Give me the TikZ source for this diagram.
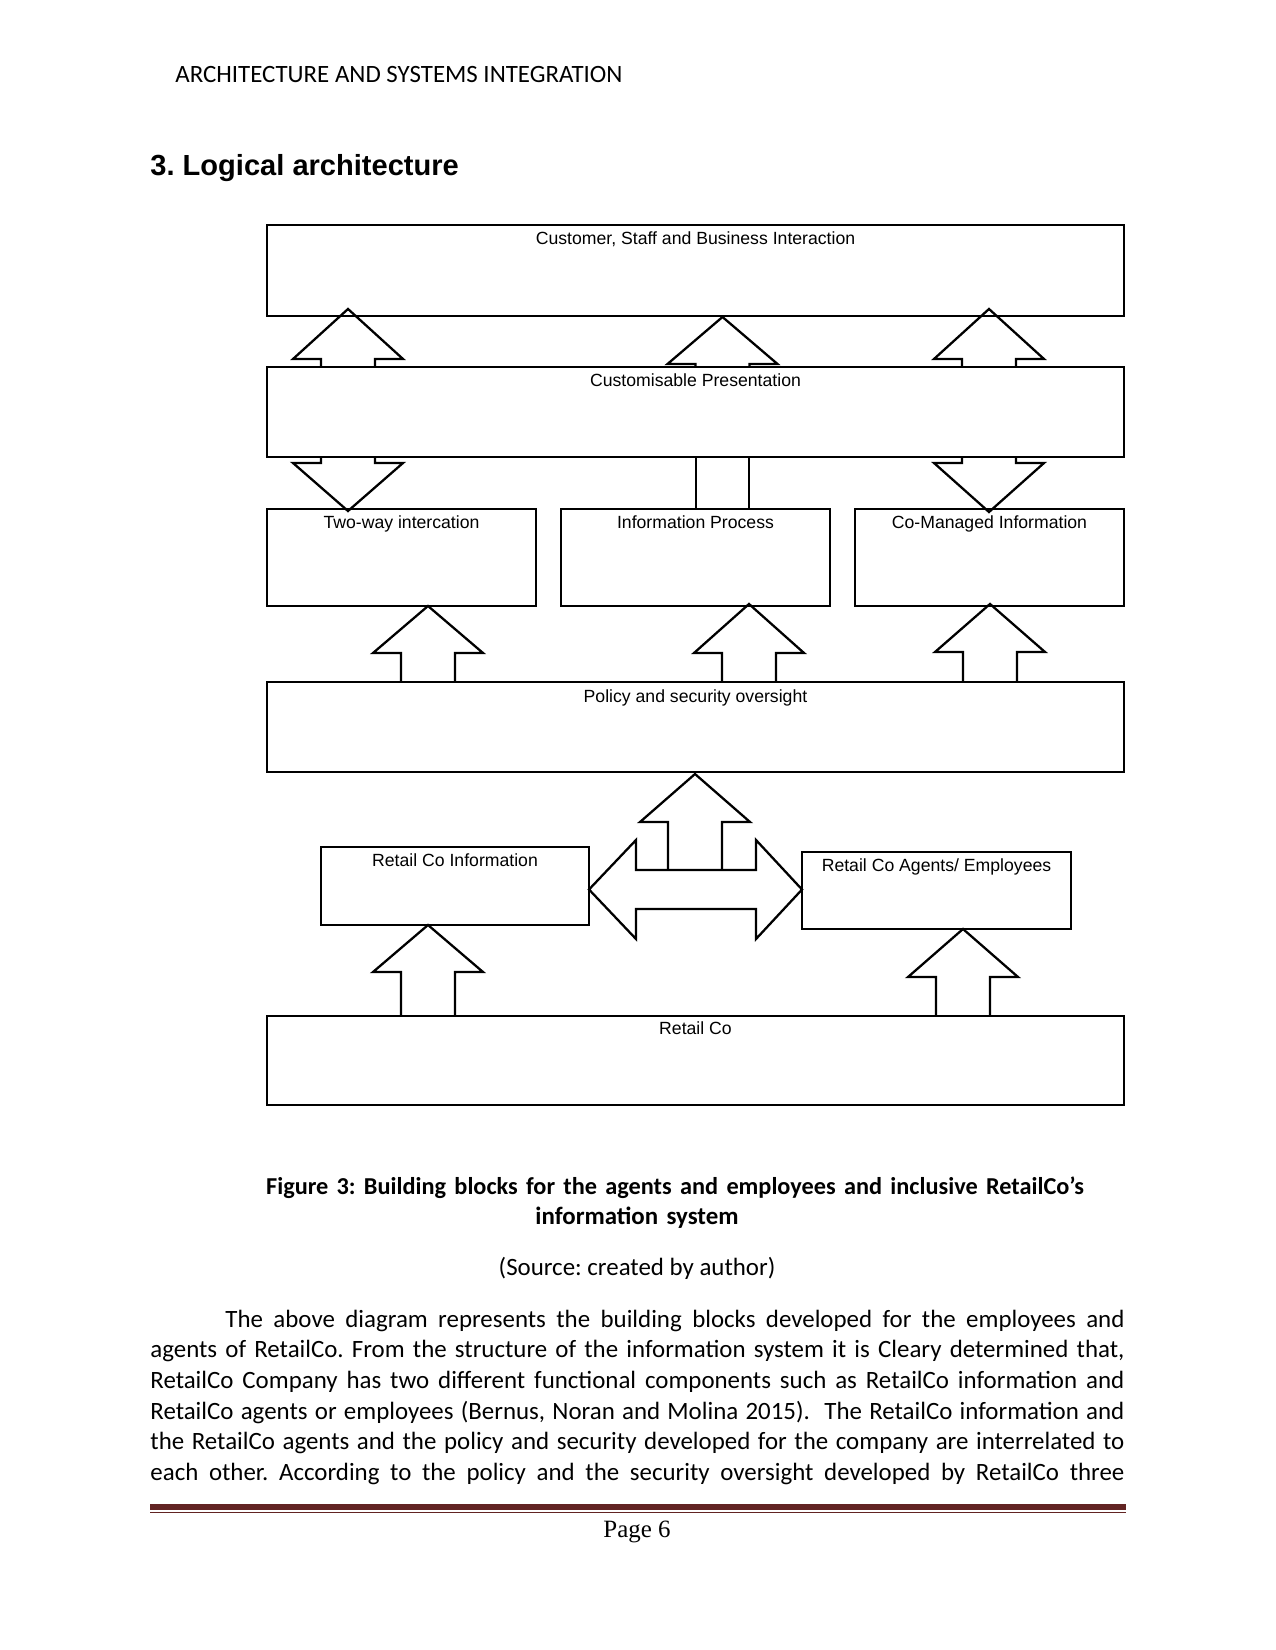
\documentclass[tikz,border=0pt]{standalone}
\usepackage{fontspec}
\setmainfont{Carlito}
\newfontfamily\arialfont{Liberation Sans}
\newfontfamily\pagefont{Liberation Serif}
\usetikzlibrary{calc}
\definecolor{rulered}{HTML}{622423}
\AtBeginDocument{\frenchspacing}
\newlength\pxu
\setlength\pxu{0.4818pt}
\tikzset{
  blk/.style={draw, line width=1.1pt, inner sep=0pt, outer sep=0pt},
  blklabel/.style={font=\arialfont\fontsize{8.5}{10}\selectfont, inner sep=0pt, anchor=base},
  blkarrow/.style={draw, line width=1.1pt, line join=miter},
  pagetext/.style={font=\fontsize{12}{14.7}\selectfont, inner sep=0pt},
}
% x, base y, head y, tip y
\newcommand{\vblock}[4]{%
  \draw[blkarrow] (#1-27,#2) -- (#1-27,#3) -- (#1-55,#3) -- (#1,#4) -- (#1+55,#3) -- (#1+27,#3) -- (#1+27,#2);}
\begin{document}
\begin{tikzpicture}[x=0.4818pt, y=-0.4818pt]
\useasboundingbox (0,0) rectangle (1275,1650);
% page head
\node[pagetext, anchor=base west] (head) at (175,83) {ARCHITECTURE AND SYSTEMS INTEGRATION};
\node[font=\arialfont\bfseries\fontsize{14}{17}\selectfont, inner sep=0pt, anchor=base west] (title) at (150,176) {3. Logical architecture};

% layers
\node[blk, minimum width=857*\pxu, minimum height=91*\pxu] (cust) at (695.5,270.5) {};
\node[blk, minimum width=857*\pxu, minimum height=90*\pxu] (pres) at (695.5,412) {};
\foreach \n/\x in {two/401.5, proc/695.5, coman/989.5}
{
	\node[blk, minimum width=269*\pxu, minimum height=97*\pxu] (\n) at (\x,557.5) {};
}
\node[blk, minimum width=857*\pxu, minimum height=90*\pxu] (policy) at (695.5,727) {};
\node[blk, minimum width=268*\pxu, minimum height=78*\pxu] (rinfo) at (455,886) {};
\node[blk, minimum width=269*\pxu, minimum height=77*\pxu] (ragents) at (936.5,890.5) {};
\node[blk, minimum width=857*\pxu, minimum height=89*\pxu] (retail) at (695.5,1060.5) {};

\node[blklabel] (custt) at ($(cust.north)+(0,20)$) {Customer, Staff and Business Interaction};
\node[blklabel] (prest) at ($(pres.north)+(0,20)$) {Customisable Presentation};
\node[blklabel] (twot) at ($(two.north)+(0,19)$) {Two-way intercation};
\node[blklabel] (proct) at ($(proc.north)+(0,19)$) {Information Process};
\node[blklabel] (comant) at ($(coman.north)+(0,19)$) {Co-Managed Information};
\node[blklabel] (policyt) at ($(policy.north)+(0,20)$) {Policy and security oversight};
\node[blklabel] (rinfot) at ($(rinfo.north)+(0,19)$) {Retail Co Information};
\node[blklabel] (ragentst) at ($(ragents.north)+(0,19)$) {Retail Co Agents/ Employees};
\node[blklabel] (retailt) at ($(retail.north)+(0,18)$) {Retail Co};

% block arrows
\vblock{348}{367}{359}{309}
\vblock{722.5}{367}{364}{317}
\vblock{989}{367}{359}{309}
\vblock{348}{457}{463}{511}
\draw[blkarrow] (696,457) rectangle (749,509);
\vblock{989}{457}{463}{512}
\vblock{428}{682}{653}{606}
\vblock{749}{682}{653}{604}
\vblock{990}{682}{652}{604}
\vblock{695}{870}{822}{774}
\draw[blkarrow] (589,889.5) -- (636,840) -- (636,870) -- (756,870) -- (756,840) -- (802,889.5)
	-- (756,939) -- (756,909) -- (636,909) -- (636,939) -- cycle;
\vblock{428}{1015}{972}{925}
\vblock{963}{1015}{977}{929}

% caption and text
\node[pagetext, font=\bfseries\fontsize{12}{14.2}\selectfont, text width=974*\pxu, align=center, anchor=north] (caption) at (637,1173.7)
	{\strut\hspace*{76\pxu}{\fontsize{11.7}{14.2}\selectfont Figure 3: Building blocks for the agents and employees and inclusive RetailCo’s}\\information system};
\node[pagetext, anchor=base] (source) at (637,1275) {(Source: created by author)};
\node[pagetext, text width=974*\pxu, align=justify, anchor=north west] (body) at (150,1305.7)
	{\strut\hspace*{75\pxu}The above diagram represents the building blocks developed for the employees and\linebreak
	agents of RetailCo. From the structure of the information system it is Cleary determined that,\linebreak
	RetailCo Company has two different functional components such as RetailCo information and\linebreak
	RetailCo agents or employees (Bernus, Noran and Molina 2015).\ \ The RetailCo information and\linebreak
	the RetailCo agents and the policy and security developed for the company are interrelated to\linebreak
	each other. According to the policy and the security oversight developed by RetailCo three\linebreak};

% page foot
\coordinate (rulea) at (150,1507);
\coordinate (ruleb) at (1126,1507);
\draw[rulered, line width=2.9pt] (rulea) -- (ruleb);
\draw[rulered, line width=0.6pt] ($(rulea)+(0,5.5)$) -- ($(ruleb)+(0,5.5)$);
\node[font=\pagefont\fontsize{12}{14}\selectfont, inner sep=0pt, anchor=base] (page) at (637,1537) {Page 6};
\end{tikzpicture}
\end{document}
